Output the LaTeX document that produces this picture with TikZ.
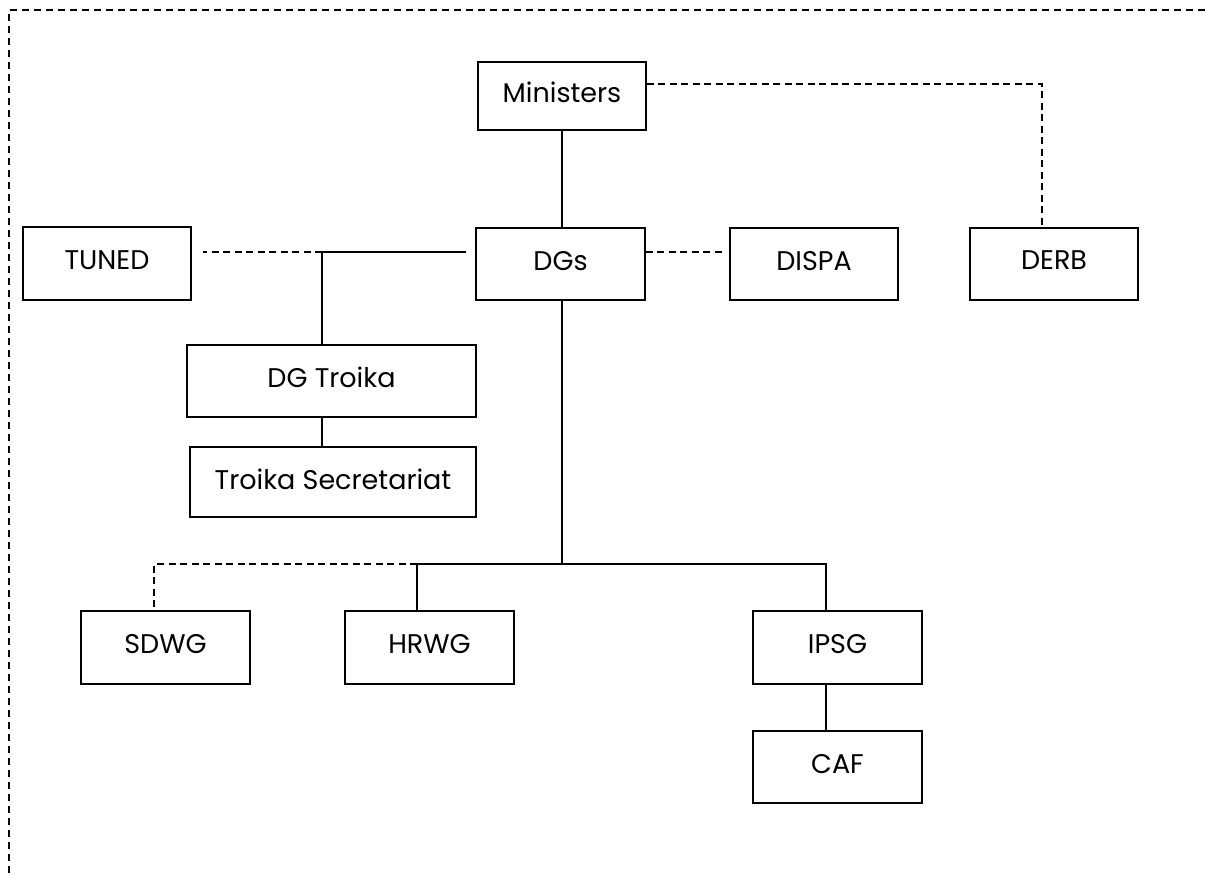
\documentclass[tikz,border=0pt]{standalone}
\usepackage{fontspec}
\setmainfont{Poppins}
\begin{document}
\begin{tikzpicture}[x=1pt,y=-1pt,
  box/.style={draw,line width=1.2pt,inner sep=0pt,minimum width=168pt,minimum height=72pt,font=\fontsize{27}{30}\selectfont},
  solidline/.style={line width=1.2pt},
  dashline/.style={line width=1.2pt,dash pattern=on 7pt off 4.5pt},
  border/.style={line width=1.2pt,dash pattern=on 7pt off 5pt}]
\useasboundingbox (0,0) rectangle (1206,873);
\draw[border] (9,873) -- (9,10) -- (1206,10);
\node[box,minimum height=68pt] (min) at (562,96) {\raisebox{7pt}{Ministers}};
\node[box,minimum width=169pt] (dgs) at (560.5,264) {\raisebox{7pt}{DGs}};
\node[box] (dispa) at (814,264) {\raisebox{7pt}{DISPA}};
\node[box] (derb) at (1054,264) {\raisebox{7pt}{DERB}};
\node[box,minimum height=73pt] (tuned) at (107,263.5) {\raisebox{7pt}{TUNED}};
\node[box,minimum width=289pt] (troika) at (331.5,381) {\raisebox{7pt}{DG Troika}};
\node[box,minimum width=286pt,minimum height=70pt] (tsec) at (333,482) {\raisebox{5pt}{Troika Secretariat}};
\node[box,minimum width=169pt,minimum height=73pt] (sdwg) at (165.5,647.5) {\raisebox{7pt}{SDWG}};
\node[box,minimum width=169pt,minimum height=73pt] (hrwg) at (429.5,647.5) {\raisebox{7pt}{HRWG}};
\node[box,minimum width=169pt,minimum height=73pt] (ipsg) at (837.5,647.5) {\raisebox{7pt}{IPSG}};
\node[box,minimum width=169pt] (caf) at (837.5,767) {\raisebox{7pt}{CAF}};
% coordinates
\coordinate (mr) at (min.east |- 0,84);
\coordinate (dcorner) at (1042,84);
\coordinate (dtop) at (1042,0 |- derb.north);
\coordinate (dgw) at (466,252);
\coordinate (j1) at (322,252);
\coordinate (tr) at (203,252);
\coordinate (dge) at (dgs.east |- 0,252);
\coordinate (dpw) at (724,252);
\coordinate (j2) at (562,564);
\coordinate (jh) at (417,564);
\coordinate (ji) at (826,564);
\coordinate (js) at (154,564);
% connectors
\draw[solidline] (min.south -| 562,0) -- (562,0 |- dgs.north);
\draw[dashline] (mr) -- (dcorner) -- (dtop);
\draw[solidline] (dgw) -- (j1);
\draw[dashline] (j1) -- (tr);
\draw[solidline] (j1) -- (j1 |- troika.north);
\draw[solidline] (j1 |- troika.south) -- (j1 |- tsec.north);
\draw[dashline] (dge) -- (dpw);
\draw[solidline] (562,0 |- dgs.south) -- (j2);
\draw[solidline] (jh) -- (ji) -- (ji |- ipsg.north);
\draw[solidline] (jh) -- (jh |- hrwg.north);
\draw[dashline] (jh) -- (js) -- (js |- sdwg.north);
\draw[solidline] (ji |- ipsg.south) -- (ji |- caf.north);
\end{tikzpicture}
\end{document}
